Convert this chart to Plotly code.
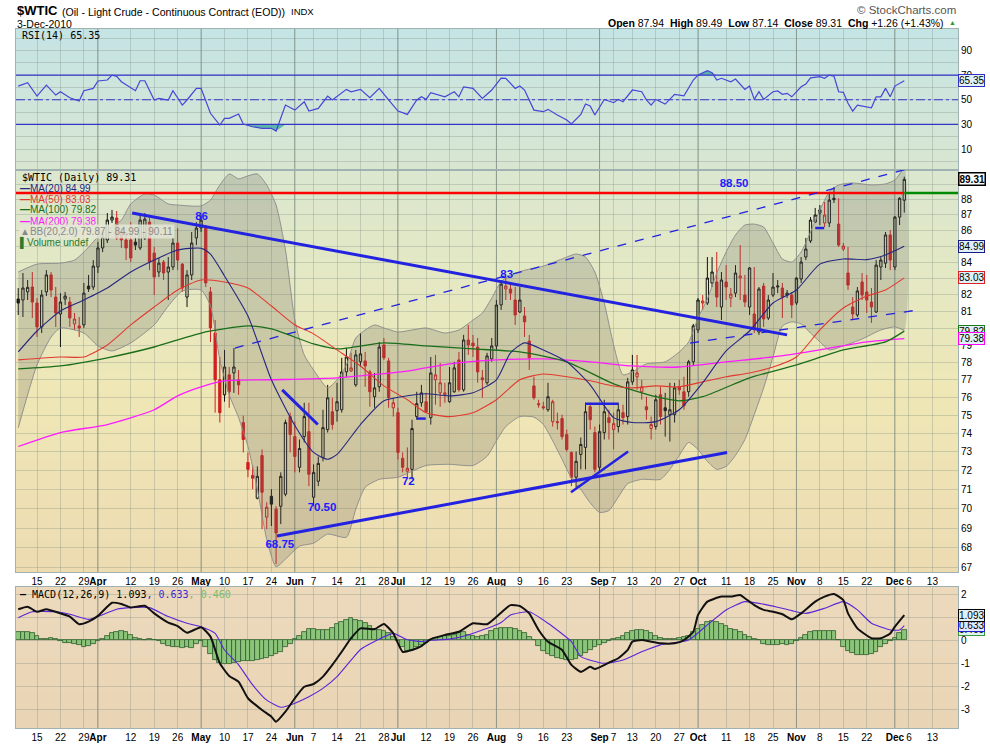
import math
import pandas as pd
import plotly.graph_objects as go

# ---------------------------------------------------------------- calendar
# trading-day numbers: day 0 = 2010-03-09 ... day 189 = 2010-12-03
FIRST_DAY = "2010-03-09"
AXIS_END_DAY = "2010-12-31"
HOLIDAYS = ["2010-05-31", "2010-07-05", "2010-09-06", "2010-11-25"]
CAL = [d for d in pd.bdate_range(FIRST_DAY, AXIS_END_DAY) if d.strftime("%Y-%m-%d") not in HOLIDAYS]
DAY_OF = {d.strftime("%Y-%m-%d"): i for i, d in enumerate(CAL)}

TICK_DATES = ["2010-03-15", "2010-03-22", "2010-03-29", "2010-04-01", "2010-04-12", "2010-04-19",
              "2010-04-26", "2010-05-03", "2010-05-10", "2010-05-17", "2010-05-24", "2010-06-01",
              "2010-06-07", "2010-06-14", "2010-06-21", "2010-06-28", "2010-07-01", "2010-07-12",
              "2010-07-19", "2010-07-26", "2010-08-02", "2010-08-09", "2010-08-16", "2010-08-23",
              "2010-09-01", "2010-09-07", "2010-09-13", "2010-09-20", "2010-09-27", "2010-10-01",
              "2010-10-11", "2010-10-18", "2010-10-25", "2010-11-01", "2010-11-08", "2010-11-15",
              "2010-11-22", "2010-12-01", "2010-12-06", "2010-12-13"]

# ---------------------------------------------------------------- daily OHLC (WTIC)
OPEN = [81.74, 81.68, 82.17, 82.47, 81.50, 80.07, 82.17, 83.21, 81.86, 80.84,
        81.74, 81.56, 80.25, 80.13, 80.19, 82.53, 82.47, 83.70, 84.89, 85.39,
        86.66, 86.79, 85.90, 85.39, 85.39, 85.26, 84.89, 85.52, 86.53, 84.57,
        83.39, 84.01, 83.39, 83.70, 85.20, 83.88, 81.86, 83.21, 85.52, 86.15,
        86.21, 82.17, 79.71, 77.00, 76.15, 77.28, 77.39, 77.00, 74.60, 72.43,
        71.74, 70.54, 72.80, 69.56, 70.64, 69.97, 70.12, 70.75, 74.93, 73.83,
        72.17, 73.83, 74.10, 70.59, 71.43, 72.70, 74.21, 75.20, 75.26, 75.31,
        77.45, 77.50, 76.71, 78.03, 78.08, 77.45, 76.04, 76.60, 79.01, 78.08,
        75.42, 75.15, 72.65, 71.96, 72.06, 74.93, 75.70, 75.76, 74.87, 77.00,
        76.26, 76.15, 75.76, 76.32, 78.14, 76.43, 79.30, 79.12, 78.89, 77.11,
        76.83, 78.20, 78.95, 81.38, 82.35, 82.35, 81.68, 80.96, 80.72, 79.24,
        76.65, 75.65, 75.48, 75.31, 74.65, 74.65, 74.82, 73.94, 72.97, 71.64,
        72.86, 73.24, 75.48, 74.05, 72.17, 74.05, 74.87, 74.21, 74.38, 75.15,
        74.93, 76.88, 77.17, 76.32, 75.48, 74.27, 74.38, 76.15, 75.42, 75.04,
        75.04, 76.60, 76.32, 76.32, 78.03, 79.89, 81.50, 81.50, 82.72, 82.78,
        81.26, 82.78, 81.80, 82.10, 83.02, 81.98, 81.26, 80.84, 79.77, 82.53,
        80.60, 81.98, 82.47, 82.41, 81.98, 81.98, 81.50, 82.96, 84.32, 85.33,
        86.53, 87.11, 86.47, 86.47, 88.07, 86.40, 84.82, 83.33, 81.26, 80.78,
        82.78, 82.17, 81.56, 80.96, 83.70, 83.94, 85.71, 83.70, 86.85, 87.94]
HIGH = [82.41, 83.33, 82.90, 83.39, 81.80, 82.29, 83.51, 83.39, 82.47, 82.10,
        82.17, 81.86, 80.90, 80.66, 82.72, 83.21, 84.13, 85.26, 85.90, 87.11,
        87.31, 87.24, 86.15, 85.90, 86.53, 85.58, 87.11, 87.11, 86.79, 84.95,
        84.26, 84.13, 84.32, 85.52, 86.15, 83.94, 83.51, 85.90, 86.53, 86.98,
        86.34, 82.47, 80.48, 78.31, 78.72, 77.73, 78.83, 77.56, 74.98, 72.97,
        72.27, 72.22, 73.13, 70.33, 71.01, 70.12, 71.90, 74.76, 75.15, 74.65,
        73.67, 75.70, 75.70, 72.33, 72.75, 75.31, 76.71, 75.98, 76.83, 78.26,
        78.83, 78.55, 78.72, 79.71, 78.60, 77.56, 77.39, 79.18, 79.42, 78.26,
        75.98, 75.42, 72.97, 73.24, 74.76, 76.32, 76.71, 76.26, 78.31, 78.43,
        77.96, 76.83, 77.73, 78.03, 78.60, 79.60, 80.19, 79.60, 79.42, 77.56,
        78.55, 79.42, 81.68, 82.90, 83.08, 82.59, 82.47, 82.47, 81.26, 79.60,
        77.17, 75.87, 75.76, 76.83, 75.87, 75.15, 75.04, 74.21, 73.02, 73.02,
        73.78, 75.70, 75.70, 74.38, 74.49, 75.87, 75.31, 75.15, 75.70, 75.59,
        77.11, 78.43, 78.43, 77.00, 76.04, 74.93, 76.15, 76.60, 76.26, 76.83,
        76.83, 77.00, 77.17, 78.14, 80.25, 81.80, 81.98, 84.32, 84.32, 84.63,
        83.39, 83.82, 82.41, 83.82, 85.07, 83.21, 83.70, 83.70, 82.47, 82.72,
        81.98, 83.33, 82.90, 82.72, 82.29, 82.17, 83.08, 84.32, 85.52, 86.85,
        87.44, 87.63, 87.82, 88.41, 88.81, 88.07, 85.20, 84.95, 81.86, 82.47,
        83.33, 83.21, 82.41, 84.13, 84.32, 85.90, 86.02, 86.92, 88.14, 89.49]
LOW = [80.78, 80.66, 81.68, 80.60, 79.48, 79.71, 81.92, 81.86, 80.07, 78.89,
       81.38, 80.07, 79.89, 79.48, 80.01, 82.17, 82.29, 83.33, 84.63, 85.20,
       86.47, 85.39, 84.89, 84.13, 84.01, 84.76, 84.76, 85.39, 83.51, 81.98,
       83.08, 82.90, 81.68, 83.51, 83.51, 82.17, 81.26, 82.90, 85.07, 85.90,
       82.47, 79.18, 75.15, 74.60, 75.76, 75.42, 76.26, 76.15, 72.97, 71.64,
       71.01, 70.48, 68.94, 68.94, 69.10, 67.18, 69.20, 70.64, 72.97, 71.90,
       71.90, 73.51, 71.17, 70.12, 71.17, 72.49, 74.05, 74.21, 74.65, 75.15,
       77.17, 77.45, 76.60, 77.73, 76.60, 75.48, 75.42, 76.32, 78.14, 75.42,
       74.93, 72.59, 71.90, 71.64, 71.53, 74.76, 75.48, 75.15, 74.49, 75.59,
       75.48, 75.70, 75.70, 76.26, 76.32, 76.32, 78.43, 78.31, 76.83, 75.98,
       76.71, 78.03, 78.72, 81.08, 81.68, 81.68, 80.19, 80.90, 79.48, 77.56,
       75.87, 75.42, 75.31, 75.20, 74.38, 74.21, 73.67, 73.02, 71.17, 71.11,
       72.06, 72.06, 74.21, 71.90, 71.90, 73.67, 73.67, 73.13, 74.05, 74.49,
       74.49, 76.71, 76.43, 75.87, 74.76, 73.67, 74.21, 74.49, 73.83, 73.56,
       74.60, 76.15, 75.31, 76.04, 77.79, 79.71, 81.08, 81.38, 82.47, 81.26,
       80.48, 81.68, 81.26, 81.86, 81.68, 81.26, 80.78, 79.71, 79.60, 80.07,
       80.48, 81.86, 82.10, 80.60, 81.80, 80.60, 81.38, 82.72, 84.13, 85.20,
       86.47, 86.34, 86.21, 86.21, 87.76, 84.95, 84.70, 82.29, 80.48, 80.66,
       81.68, 80.90, 80.31, 80.90, 82.90, 83.64, 83.51, 83.51, 86.34, 87.14]
CLOSE = [81.50, 82.41, 82.45, 81.56, 80.07, 81.98, 83.21, 82.29, 80.90, 81.56,
         81.92, 80.60, 80.54, 80.01, 82.10, 82.35, 83.76, 84.89, 85.58, 86.66,
         86.85, 85.52, 85.39, 84.89, 84.26, 85.07, 86.66, 86.72, 84.01, 83.08,
         83.94, 83.33, 83.70, 85.20, 84.13, 82.41, 83.21, 85.20, 86.15, 86.66,
         82.72, 80.01, 77.00, 75.15, 77.73, 76.32, 77.73, 76.71, 73.67, 72.06,
         71.59, 71.69, 70.85, 70.07, 70.23, 68.75, 71.69, 74.60, 73.94, 72.75,
         73.18, 74.93, 71.80, 71.90, 72.38, 74.32, 75.98, 74.49, 75.76, 77.45,
         78.31, 77.68, 78.43, 78.49, 77.79, 76.32, 76.54, 78.89, 78.26, 75.98,
         75.70, 72.97, 72.17, 72.12, 74.27, 75.65, 76.26, 75.20, 77.39, 77.28,
         76.83, 76.26, 76.83, 77.68, 76.43, 79.30, 79.01, 78.95, 77.45, 77.00,
         78.37, 78.95, 81.38, 82.65, 82.53, 82.10, 80.78, 81.68, 80.37, 78.26,
         75.98, 75.59, 75.42, 76.04, 75.76, 74.60, 73.83, 73.13, 71.64, 72.49,
         73.40, 75.20, 74.76, 72.06, 74.10, 75.20, 74.60, 74.54, 75.31, 74.87,
         76.88, 77.56, 77.39, 76.60, 75.31, 74.49, 75.87, 74.93, 75.26, 75.31,
         76.54, 76.43, 75.53, 78.03, 80.13, 81.68, 81.62, 83.02, 83.39, 81.86,
         82.90, 82.47, 82.04, 83.33, 83.15, 81.56, 83.64, 80.01, 82.35, 80.54,
         81.68, 82.47, 82.53, 81.86, 82.10, 81.38, 83.02, 84.01, 84.82, 86.66,
         86.98, 87.31, 86.98, 87.95, 87.98, 85.07, 85.01, 82.59, 80.84, 82.23,
         81.98, 81.68, 81.26, 83.82, 84.13, 85.71, 84.13, 86.85, 88.07, 89.31]
CHG, CHG_PCT = 1.26, 1.43

# ---------------------------------------------------------------- overlays (read at trading-day numbers)
MA20_DAY = [0, 4, 9, 14, 19, 24, 29, 34, 39, 41, 44, 49, 54, 59, 63, 66, 68, 73, 78, 83, 87, 92, 97,
            102, 105, 108, 112, 117, 122, 127, 131, 136, 141, 146, 151, 156, 161, 166, 171, 176,
            181, 185, 189]
MA20_VAL = [78.60, 79.83, 81.02, 81.68, 82.41, 83.39, 84.13, 84.76, 84.87, 84.50, 83.15, 80.72, 77.00,
            74.44, 72.97, 72.60, 72.86, 74.49, 75.81, 76.09, 76.21, 76.09, 76.26, 77.00, 78.55, 79.13,
            78.72, 78.03, 76.71, 74.87, 74.60, 74.65, 75.31, 76.83, 78.66, 79.83, 81.50, 82.29, 83.88,
            84.20, 84.16, 84.45, 84.99]
MA50_DAY = [0, 9, 14, 19, 24, 29, 34, 39, 44, 49, 54, 59, 63, 68, 73, 78, 83, 87, 92, 97, 102, 107,
            112, 117, 122, 127, 131, 136, 141, 146, 151, 156, 161, 166, 171, 176, 181, 185, 189]
MA50_VAL = [78.14, 78.31, 78.31, 79.01, 80.19, 81.26, 82.29, 82.90, 82.78, 82.41, 81.32, 80.19, 79.66,
            78.72, 77.79, 76.65, 75.87, 75.14, 74.93, 75.14, 75.87, 77.00, 77.33, 77.17, 76.94, 76.65,
            76.54, 76.65, 76.60, 76.88, 77.17, 77.39, 77.73, 78.31, 79.89, 81.20, 81.92, 82.29, 83.03]
MA100_DAY = [0, 9, 19, 29, 39, 49, 54, 63, 68, 78, 87, 97, 107, 117, 127, 136, 141, 146, 156, 166,
             176, 185, 189]
MA100_VAL = [77.62, 77.79, 78.26, 78.89, 79.71, 80.13, 79.95, 79.07, 78.78, 79.13, 78.95, 78.78, 78.60,
             78.03, 76.77, 76.04, 75.81, 76.04, 77.11, 77.85, 78.72, 79.19, 79.82]
MA200_DAY = [0, 9, 19, 29, 34, 39, 44, 54, 68, 83, 92, 102, 112, 122, 131, 141, 151, 161, 171, 181, 189]
MA200_VAL = [73.29, 74.05, 74.49, 75.31, 76.09, 76.60, 76.94, 77.00, 77.11, 77.50, 77.91, 78.14, 78.20,
             78.03, 77.79, 77.73, 78.03, 78.31, 78.72, 79.19, 79.38]
BBU_DAY = [0, 4, 9, 12, 14, 17, 19, 22, 24, 27, 29, 32, 34, 39, 41, 43, 45, 47, 49, 51, 53, 55, 57,
           59, 61, 63, 66, 68, 70, 72, 74, 76, 78, 81, 84, 87, 91, 94, 97, 99, 101, 103, 105, 108,
           112, 116, 119, 121, 123, 125, 127, 129, 131, 134, 138, 141, 143, 145, 147, 149, 151, 153,
           155, 157, 159, 161, 163, 165, 167, 169, 171, 173, 175, 178, 182, 185, 187, 189]
BBU_VAL = [83.39, 83.88, 83.94, 84.13, 84.63, 85.58, 86.02, 86.66, 87.70, 88.35, 88.28, 87.70, 87.63,
           87.57, 87.95, 88.94, 89.67, 89.34, 89.54, 89.67, 88.94, 87.63, 84.76, 80.48, 78.43, 77.56,
           76.54, 77.00, 77.85, 79.42, 79.89, 80.19, 80.01, 79.77, 79.89, 80.01, 79.71, 79.89, 80.48,
           80.90, 81.80, 82.80, 83.20, 83.50, 83.76, 84.20, 84.51, 84.32, 83.39, 81.50, 79.01, 77.28,
           77.45, 77.91, 78.03, 78.60, 79.18, 80.60, 81.74, 83.33, 84.63, 85.71, 86.34, 86.40, 86.21,
           85.20, 84.20, 84.01, 84.63, 85.90, 87.31, 88.48, 88.94, 89.07, 88.94, 89.01, 89.27, 90.11]
BBL_DAY = [0, 2, 4, 7, 9, 14, 17, 20, 24, 29, 32, 35, 39, 41, 43, 45, 47, 49, 51, 53, 55, 57, 60, 63,
           66, 70, 72, 74, 77, 81, 84, 87, 92, 97, 100, 102, 104, 107, 110, 112, 114, 116, 118, 120,
           122, 124, 126, 128, 130, 133, 137, 139, 141, 143, 145, 147, 149, 151, 153, 155, 157, 159,
           161, 163, 165, 167, 169, 171, 173, 176, 180, 184, 187, 189]
BBL_VAL = [74.32, 76.15, 77.85, 79.47, 80.01, 79.71, 78.95, 78.66, 79.13, 80.19, 81.32, 82.23, 82.29,
           81.32, 78.14, 76.15, 74.87, 73.29, 71.01, 68.43, 67.05, 67.43, 68.08, 68.23, 68.69, 68.53,
           69.97, 71.11, 71.53, 71.64, 71.96, 72.27, 72.33, 72.27, 72.76, 73.60, 74.38, 74.93, 74.90,
           74.50, 73.60, 72.60, 71.60, 71.00, 70.30, 69.80, 69.90, 70.60, 71.30, 71.53, 71.53, 72.06,
           72.81, 73.51, 73.13, 72.49, 72.06, 72.22, 72.81, 73.67, 75.04, 76.54, 78.31, 80.13, 80.37,
           80.25, 79.71, 79.19, 78.72, 78.95, 79.36, 79.89, 80.07, 79.87]

# ---------------------------------------------------------------- drawn trend lines / labels (day, price)
DOWN_DAY, DOWN_PX = [24.3, 164.0], [87.11, 79.60]
UP_DAY, UP_PX = [55.2, 151.2], [68.59, 72.97]
CHAN_HI_DAY, CHAN_HI_PX = [46.2, 196.0], [78.83, 90.53]
CHAN_LO_DAY, CHAN_LO_PX = [143.3, 191.9], [79.12, 81.08]
JUN_DAY, JUN_PX = [56.3, 63.9], [76.43, 74.49]
AUG_DAY, AUG_PX = [117.9, 130.1], [70.85, 73.02]
SEP_DAY, SEP_PX = [120.9, 128.0], [75.65, 75.65]
JUL_DASH_DAY, JUL_DASH_PX = [85.0, 88.3], [74.82, 74.82]
NOV_DASH_DAY, NOV_DASH_PX = [170.0, 173.0], [86.15, 86.15]
RESIST = 88.42
LBL_TEXT = ["86", "83", "88.50", "68.75", "70.50", "72"]
LBL_DAY = [39.1, 104.2, 152.7, 55.8, 64.8, 83.2]
LBL_PX = [86.82, 83.21, 88.97, 68.13, 70.00, 71.40]

# ---------------------------------------------------------------- RSI(14)
RSI_DAY = [0, 2, 4, 6, 8, 9, 11, 13, 14, 16, 17, 19, 20, 21, 22, 25, 26, 27, 29, 30, 32, 33, 35, 36,
           38, 39, 41, 43, 44, 45, 47, 48, 50, 52, 54, 55, 57, 59, 61, 62, 64, 66, 67, 70, 71, 73, 75,
           77, 79, 81, 83, 85, 86, 87, 88, 91, 93, 94, 95, 97, 99, 101, 103, 104, 106, 107, 108, 109,
           110, 112, 113, 115, 117, 118, 120, 121, 122, 123, 125, 127, 128, 129, 131, 133, 134, 135,
           136, 138, 140, 142, 144, 145, 147, 148, 149, 150, 152, 153, 155, 156, 157, 158, 159, 161,
           162, 163, 164, 165, 167, 168, 169, 171, 172, 173, 174, 175, 176, 177, 178, 179, 182, 183,
           184, 185, 186, 187, 188, 189]
RSI_VAL = [61.1, 63.8, 53.0, 61.9, 53.8, 56.5, 51.6, 48.9, 57.3, 59.2, 65.2, 66.0, 70.0, 69.0, 64.6,
           57.3, 65.4, 65.4, 49.8, 51.1, 49.8, 57.3, 45.7, 49.8, 59.2, 59.2, 39.0, 29.5, 34.9, 34.9,
           38.4, 30.3, 28.1, 26.8, 26.8, 24.6, 45.7, 41.6, 48.4, 40.8, 43.0, 53.0, 49.8, 58.4, 56.5,
           58.4, 51.6, 59.2, 49.8, 40.8, 38.1, 49.8, 52.4, 50.3, 55.7, 52.4, 56.5, 52.4, 60.5, 59.2,
           51.1, 57.9, 67.5, 67.4, 59.2, 61.1, 57.9, 50.3, 41.6, 40.3, 42.2, 37.6, 33.5, 30.3, 38.1,
           46.5, 44.9, 37.6, 50.3, 47.6, 50.3, 48.4, 57.9, 56.5, 49.8, 45.7, 50.3, 46.5, 54.4, 53.2,
           66.0, 70.0, 73.5, 71.9, 66.0, 67.4, 64.6, 66.8, 58.4, 61.1, 50.3, 56.5, 50.3, 56.5, 57.1,
           54.4, 55.2, 52.4, 60.5, 62.7, 67.8, 68.7, 67.4, 70.0, 69.2, 56.5, 56.0, 47.1, 40.8, 45.7,
           43.5, 52.4, 52.4, 59.2, 52.4, 61.1, 63.0, 65.35]
RSI_LOW, RSI_MID, RSI_HIGH = 30, 50, 70

# ---------------------------------------------------------------- MACD(12,26,9)
MACD_DAY = [0, 2, 4, 6, 9, 11, 13, 15, 17, 20, 22, 24, 27, 29, 32, 34, 36, 39, 41, 43, 45, 47, 49, 52,
            54, 55, 57, 59, 61, 63, 65, 67, 69, 71, 73, 76, 78, 80, 82, 84, 86, 88, 91, 94, 97, 100,
            103, 105, 107, 109, 111, 113, 116, 118, 120, 122, 123, 126, 128, 130, 131, 133, 135, 137,
            140, 142, 144, 145, 147, 150, 152, 154, 155, 157, 159, 161, 163, 165, 167, 170, 172, 174,
            176, 177, 179, 182, 184, 186, 187, 189]
MACD_VAL = [1.35, 1.46, 1.24, 1.35, 1.17, 1.03, 0.70, 0.81, 1.06, 1.63, 1.58, 1.43, 1.50, 1.17, 0.77,
            0.62, 0.33, 0.57, 0.16, -1.00, -1.55, -1.80, -2.52, -3.03, -3.32, -3.54, -3.10, -2.52,
            -2.02, -1.90, -1.58, -1.07, -0.50, 0.09, 0.52, 0.48, 0.71, 0.30, -0.50, -0.42, -0.25, 0.05,
            0.23, 0.37, 0.74, 0.70, 1.20, 1.53, 1.49, 1.17, 0.45, -0.06, -0.42, -1.07, -1.37, -1.15,
            -1.25, -0.97, -0.78, -0.42, -0.06, 0.01, -0.06, -0.13, -0.13, 0.01, 0.37, 1.10, 1.68, 1.90,
            1.90, 1.97, 1.83, 1.53, 1.32, 1.24, 1.13, 0.91, 1.17, 1.68, 1.90, 2.01, 1.75, 1.17, 0.52,
            0.09, 0.09, 0.30, 0.59, 1.093]
SIG_DAY = [0, 3, 8, 11, 15, 17, 21, 24, 28, 32, 36, 39, 42, 44, 47, 50, 53, 56, 58, 62, 65, 68, 71, 73,
           76, 80, 83, 86, 88, 92, 96, 99, 101, 103, 105, 109, 113, 118, 120, 125, 129, 133, 137, 143,
           147, 151, 155, 160, 165, 168, 172, 176, 179, 182, 186, 188, 189]
SIG_VAL = [0.98, 1.24, 1.24, 1.13, 0.91, 1.03, 1.35, 1.42, 1.42, 1.03, 0.74, 0.59, 0.30, -0.42, -1.07,
           -1.94, -2.60, -2.91, -2.81, -2.45, -2.09, -1.58, -0.86, -0.40, -0.05, 0.30, 0.02, -0.05,
           0.00, 0.05, 0.23, 0.45, 0.59, 0.77, 1.10, 1.24, 0.74, -0.06, -0.71, -1.00, -0.86, -0.50,
           -0.20, 0.01, 0.67, 1.32, 1.68, 1.53, 1.29, 1.17, 1.39, 1.68, 1.32, 0.74, 0.45, 0.45, 0.633]
HIST = [0.35, 0.35, 0.35, 0.30, 0.20, 0.05, 0.05, 0.08, 0.05, -0.05,
        -0.10, -0.10, -0.15, -0.20, -0.30, -0.25, -0.15, -0.05, 0.05, 0.20,
        0.30, 0.35, 0.40, 0.35, 0.25, 0.10, 0.05, 0.00, 0.05, 0.03,
        -0.05, -0.15, -0.25, -0.30, -0.30, -0.35, -0.30, -0.35, -0.15, -0.05,
        -0.30, -0.60, -0.85, -1.00, -1.05, -1.05, -1.00, -0.95, -0.90, -0.90,
        -0.90, -0.85, -0.80, -0.75, -0.70, -0.60, -0.50, -0.30, -0.15, 0.05,
        0.20, 0.35, 0.50, 0.50, 0.45, 0.45, 0.45, 0.55, 0.70, 0.80,
        0.90, 0.95, 0.90, 0.85, 0.75, 0.60, 0.50, 0.45, 0.40, 0.30,
        0.15, -0.05, -0.30, -0.45, -0.40, -0.30, -0.20, -0.10, 0.00, 0.10,
        0.15, 0.20, 0.20, 0.25, 0.30, 0.35, 0.25, 0.20, 0.15, 0.20,
        0.25, 0.40, 0.50, 0.55, 0.55, 0.55, 0.50, 0.40, 0.30, 0.15,
        0.00, -0.25, -0.45, -0.60, -0.70, -0.75, -0.80, -0.85, -0.85, -0.80,
        -0.70, -0.55, -0.40, -0.30, -0.20, -0.10, -0.05, 0.05, 0.10, 0.20,
        0.30, 0.40, 0.45, 0.45, 0.40, 0.30, 0.20, 0.10, 0.05, 0.05,
        0.05, 0.10, 0.15, 0.20, 0.35, 0.50, 0.65, 0.80, 0.85, 0.80,
        0.70, 0.60, 0.50, 0.45, 0.35, 0.25, 0.15, 0.05, 0.00, -0.15,
        -0.20, -0.20, -0.20, -0.15, -0.20, -0.15, -0.05, 0.10, 0.25, 0.35,
        0.40, 0.40, 0.40, 0.40, 0.40, 0.00, -0.30, -0.45, -0.55, -0.65,
        -0.65, -0.65, -0.60, -0.50, -0.30, -0.15, -0.05, 0.10, 0.30, 0.46]

# ---------------------------------------------------------------- geometry / style
W, H = 990, 744
def px(x):
    return x / W
def py(y):
    return 1 - y / H

PLOT_L, PLOT_R = 16, 958
RSI_T, RSI_B = 29, 170
MAIN_T, MAIN_B = 170, 572
MACD_T, MACD_B = 587, 728
X_RANGE = [-0.48, 200.46]
MAIN_RANGE = [math.log10(66.79), math.log10(89.93)]
RSI_RANGE = [-7.0, 107.4]
MACD_RANGE = [-3.813, 2.317]

FONT = "Liberation Sans, Arial, sans-serif"
MONO = "DejaVu Sans Mono, monospace"
GRID = "rgba(120,135,125,0.30)"
MONTH_GRID = "rgba(95,110,100,0.55)"
BORDER = "#9fb1b1"
TL_BLUE = "#2222e0"
C_MA20, C_MA50, C_MA100, C_MA200 = "#262680", "#e23a30", "#1a6e1a", "#ff1aff"
RED = "#d02020"

N = len(CLOSE)
TICK_DAYS = [DAY_OF[d] for d in TICK_DATES]
IS_MONTH = [i == 0 or CAL[i - 1].month != CAL[i].month for i in TICK_DAYS]
TICK_TEXT = ["<b>%s</b>" % CAL[i].strftime("%b") if m else str(CAL[i].day) for i, m in zip(TICK_DAYS, IS_MONTH)]
MONTH_DAYS = [i for i, m in zip(TICK_DAYS, IS_MONTH) if m]

fig = go.Figure()
T = dict(hoverinfo="skip", showlegend=False)

# ---------------- RSI panel
fig.add_trace(go.Scatter(x=RSI_DAY, y=[RSI_LOW] * len(RSI_DAY), mode="lines", line=dict(width=0), xaxis="x", yaxis="y", **T))
fig.add_trace(go.Scatter(x=RSI_DAY, y=[min(v, RSI_LOW) for v in RSI_VAL], mode="lines", line=dict(width=0),
                         fill="tonexty", fillcolor="rgba(60,170,160,0.8)", xaxis="x", yaxis="y", **T))
fig.add_trace(go.Scatter(x=RSI_DAY, y=[RSI_HIGH] * len(RSI_DAY), mode="lines", line=dict(width=0), xaxis="x", yaxis="y", **T))
fig.add_trace(go.Scatter(x=RSI_DAY, y=[max(v, RSI_HIGH) for v in RSI_VAL], mode="lines", line=dict(width=0),
                         fill="tonexty", fillcolor="rgba(60,170,160,0.8)", xaxis="x", yaxis="y", **T))
for lv, dash in ((RSI_HIGH, "solid"), (RSI_MID, "dashdot"), (RSI_LOW, "solid")):
    fig.add_trace(go.Scatter(x=X_RANGE, y=[lv, lv], mode="lines", line=dict(color="#3434c8", width=1.1, dash=dash),
                             xaxis="x", yaxis="y", **T))
fig.add_trace(go.Scatter(x=RSI_DAY, y=RSI_VAL, mode="lines", line=dict(color="#4646d6", width=1.2), xaxis="x", yaxis="y", **T))

# ---------------- main panel
fig.add_trace(go.Scatter(x=BBU_DAY + BBL_DAY[::-1], y=BBU_VAL + BBL_VAL[::-1], mode="lines", fill="toself",
                         fillcolor="rgba(105,105,95,0.24)", line=dict(width=0, shape="spline", smoothing=0.6),
                         xaxis="x2", yaxis="y2", **T))
for d, v in ((BBU_DAY, BBU_VAL), (BBL_DAY, BBL_VAL)):
    fig.add_trace(go.Scatter(x=d, y=v, mode="lines", line=dict(color="rgba(140,140,140,0.95)", width=1, shape="spline", smoothing=0.6),
                             xaxis="x2", yaxis="y2", **T))
for d, v, c, w in ((MA200_DAY, MA200_VAL, C_MA200, 1.3), (MA100_DAY, MA100_VAL, C_MA100, 1.3),
                   (MA50_DAY, MA50_VAL, C_MA50, 1.1), (MA20_DAY, MA20_VAL, C_MA20, 1.1)):
    fig.add_trace(go.Scatter(x=d, y=v, mode="lines", line=dict(color=c, width=w, shape="spline", smoothing=0.6),
                             xaxis="x2", yaxis="y2", **T))

blk = [i for i in range(N) if i == 0 or CLOSE[i] >= CLOSE[i - 1]]
red = [i for i in range(N) if i > 0 and CLOSE[i] < CLOSE[i - 1]]
for idx, col in ((blk, "#111111"), (red, RED)):
    fig.add_trace(go.Candlestick(
        x=idx, open=[OPEN[i] for i in idx], high=[HIGH[i] for i in idx],
        low=[LOW[i] for i in idx], close=[CLOSE[i] for i in idx],
        increasing=dict(line=dict(color=col, width=1), fillcolor="rgba(0,0,0,0)"),
        decreasing=dict(line=dict(color=col, width=1), fillcolor=col),
        whiskerwidth=0, xaxis="x2", yaxis="y2", hoverinfo="skip", showlegend=False))

fig.add_trace(go.Scatter(x=[X_RANGE[0], N - 1], y=[RESIST, RESIST], mode="lines", line=dict(color="#ff0000", width=2.5), xaxis="x2", yaxis="y2", **T))
fig.add_trace(go.Scatter(x=[N - 1, X_RANGE[1]], y=[RESIST, RESIST], mode="lines", line=dict(color="#008a00", width=2.5), xaxis="x2", yaxis="y2", **T))

for d, v, w, dash in ((DOWN_DAY, DOWN_PX, 3, "solid"), (UP_DAY, UP_PX, 3, "solid"), (JUN_DAY, JUN_PX, 3, "solid"),
                      (AUG_DAY, AUG_PX, 2.5, "solid"), (SEP_DAY, SEP_PX, 2.5, "solid"),
                      (CHAN_HI_DAY, CHAN_HI_PX, 1.3, "dash"), (CHAN_LO_DAY, CHAN_LO_PX, 1.3, "dash"),
                      (JUL_DASH_DAY, JUL_DASH_PX, 2.5, "dash"), (NOV_DASH_DAY, NOV_DASH_PX, 2.5, "dash")):
    fig.add_trace(go.Scatter(x=d, y=v, mode="lines", line=dict(color=TL_BLUE, width=w, dash=dash), xaxis="x2", yaxis="y2", **T))

fig.add_trace(go.Scatter(x=LBL_DAY, y=LBL_PX, mode="text", text=["<b>%s</b>" % t for t in LBL_TEXT],
                         textfont=dict(family=FONT, size=11.5, color="#1c1cff"), xaxis="x2", yaxis="y2", **T))

# ---------------- MACD panel
fig.add_trace(go.Bar(x=list(range(N)), y=HIST, width=1.0, marker=dict(color="#8cc47a", line=dict(color="#2d5e2d", width=0.8)),
                     xaxis="x3", yaxis="y3", **T))
fig.add_trace(go.Scatter(x=SIG_DAY, y=SIG_VAL, mode="lines", line=dict(color="#5a26d8", width=1.1, shape="spline", smoothing=0.5), xaxis="x3", yaxis="y3", **T))
fig.add_trace(go.Scatter(x=MACD_DAY, y=MACD_VAL, mode="lines", line=dict(color="#111111", width=2, shape="spline", smoothing=0.5), xaxis="x3", yaxis="y3", **T))

# ---------------------------------------------------------------- background gradients & month lines
shapes = []
def lerp(stops, t):
    for (t0, c0), (t1, c1) in zip(stops, stops[1:]):
        if t <= t1:
            f = (t - t0) / (t1 - t0)
            return "rgb(%d,%d,%d)" % tuple(round(a + (b - a) * f) for a, b in zip(c0, c1))
    return "rgb(%d,%d,%d)" % stops[-1][1]

def gradient(top, bot, stops, n):
    h = (bot - top) / n
    for k in range(n):
        y0 = top + k * h
        y1 = min(bot, y0 + h + 0.8)
        shapes.append(dict(type="rect", xref="paper", yref="paper", x0=px(PLOT_L), x1=px(PLOT_R),
                           y0=py(y1), y1=py(y0), fillcolor=lerp(stops, (k + 0.5) / n),
                           line=dict(width=0), layer="below"))

gradient(RSI_T, RSI_B, [(0, (197, 228, 229)), (1, (216, 230, 208))], 20)
gradient(MAIN_T, MAIN_B, [(0, (218, 231, 207)), (0.3, (229, 232, 194)), (0.55, (239, 231, 182)), (1, (237, 219, 178))], 36)
gradient(MACD_T, MACD_B, [(0, (236, 217, 187)), (1, (234, 212, 182))], 8)

for xa, ya in (("x", "y"), ("x2", "y2"), ("x3", "y3")):
    for d in MONTH_DAYS:
        shapes.append(dict(type="line", xref=xa, yref=ya + " domain", x0=d, x1=d, y0=0, y1=1,
                           line=dict(color=MONTH_GRID, width=1), layer="below"))

# ---------------------------------------------------------------- annotations
ann = []
def text(x, y, s, size=10, color="black", family=FONT, anchor="left", bg=None):
    a = dict(xref="paper", yref="paper", x=px(x), y=py(y), text=s, showarrow=False, xanchor=anchor,
             yanchor="middle", font=dict(family=family, size=size, color=color))
    if bg:
        a.update(bgcolor=bg, borderpad=1)
    ann.append(a)

text(15, 11, "<b>$WTIC</b>", size=13)
text(60, 12, "(Oil - Light Crude - Continuous Contract (EOD))", size=10.6)
text(289, 12, "INDX", size=9.5)
text(15, 24, "3-Dec-2010", size=10.5)
text(958, 10, "\u00a9 StockCharts.com", size=11.5, color="#555555", anchor="right")
text(946, 23, "<b>Open</b> %.2f  <b>High</b> %.2f  <b>Low</b> %.2f  <b>Close</b> %.2f  <b>Chg</b> +%.2f (+%.2f%%)"
     % (OPEN[-1], HIGH[-1], LOW[-1], CLOSE[-1], CHG, CHG_PCT), size=10.5, anchor="right")
text(952, 23, "\u25b2", size=7, color="#2e9a2e", anchor="center")

text(20, 36, "RSI(14) %.2f" % RSI_VAL[-1], size=10, family=MONO)
text(20, 177, "$WTIC (Daily) %.2f" % CLOSE[-1], size=10, family=MONO)
text(18, 188, "<b>\u2014</b>MA(20) %.2f" % MA20_VAL[-1], size=10, color=C_MA20)
text(18, 199, "<b>\u2014</b>MA(50) %.2f" % MA50_VAL[-1], size=10, color=C_MA50)
text(18, 210, "<b>\u2014</b>MA(100) %.2f" % MA100_VAL[-1], size=10, color=C_MA100)
text(18, 221, "<b>\u2014</b>MA(200) %.2f" % MA200_VAL[-1], size=10, color=C_MA200)
text(18, 232, "\u25b2BB(20,2.0) %.2f - %.2f - %.2f" % (BBL_VAL[-1], MA20_VAL[-1], BBU_VAL[-1]), size=10,
     color="#8a8a8a", bg="rgba(228,230,214,0.85)")
text(18, 243, "\u258cVolume undef", size=10, color="#2a7a2a")
text(18, 594, "<b>\u2014</b> MACD(12,26,9) %.3f<span style='color:#3a2ad8'>, %.3f</span><span style='color:#7cbc6a'>, %.3f</span>"
     % (MACD_VAL[-1], SIG_VAL[-1], HIST[-1]), size=10, family=MONO)

def tag(val, yref, ytrans, fmt, border, bg="#dff1f5", bold=False, bw=1):
    s = fmt % val
    ann.append(dict(xref="paper", x=px(958), xanchor="left", yref=yref, y=ytrans(val), yanchor="middle",
                    text="<b>%s</b>" % s if bold else s, showarrow=False,
                    font=dict(family=FONT, size=10, color="black"), bgcolor=bg, bordercolor=border,
                    borderwidth=bw, borderpad=0))

lg = math.log10
ident = lambda v: v
tag(BBU_VAL[-1], "y2", lg, "%.2f", "#8ea2b0")
tag(CLOSE[-1], "y2", lg, "%.2f", "#000000", bg="#ffffff", bold=True, bw=1.5)
tag(MA20_VAL[-1], "y2", lg, "%.2f", "#1a1a8a")
tag(MA50_VAL[-1], "y2", lg, "%.2f", "#e02020")
tag(MA100_VAL[-1], "y2", lg, "%.2f", "#1a7a1a")
tag(MA200_VAL[-1], "y2", lg, "%.2f", "#ff00ff")
tag(RSI_VAL[-1], "y", ident, "%.2f", "#3030c8")
tag(HIST[-1], "y3", ident, "%.3f", "#3a9a3a")
tag(SIG_VAL[-1], "y3", ident, "%.3f", "#2222cc", bg="#e2e8ff")
tag(MACD_VAL[-1], "y3", ident, "%.3f", "#000000")

# ---------------------------------------------------------------- axes
tickfont = dict(family=FONT, size=10, color="black")
xcommon = dict(range=X_RANGE, domain=[px(PLOT_L), px(PLOT_R)], tickvals=TICK_DAYS, ticktext=TICK_TEXT,
               showgrid=True, gridcolor=GRID, gridwidth=1, zeroline=False, ticks="", showline=True,
               mirror=True, linecolor=BORDER, tickfont=tickfont, fixedrange=True, tickangle=0)
ycommon = dict(side="right", showgrid=True, gridcolor=GRID, gridwidth=1, zeroline=False, ticks="",
               showline=True, mirror=True, linecolor=BORDER, tickfont=tickfont, fixedrange=True)

MAIN_TICKS = list(range(67, 91))
MAIN_HIDDEN = {80, 83, 85, 89, 90}
RSI_TICKS = list(range(0, 101, 10))

fig.update_layout(
    width=W, height=H, margin=dict(l=0, r=0, t=0, b=0), autosize=False,
    paper_bgcolor="white", plot_bgcolor="rgba(0,0,0,0)", showlegend=False,
    font=dict(family=FONT, size=10, color="black"), barmode="overlay", bargap=0,
    xaxis=dict(xcommon, anchor="y", showticklabels=False),
    xaxis2=dict(xcommon, anchor="y2", showticklabels=True, rangeslider=dict(visible=False)),
    xaxis3=dict(xcommon, anchor="y3", showticklabels=True),
    yaxis=dict(ycommon, anchor="x", domain=[py(RSI_B), py(RSI_T)], range=RSI_RANGE, tickvals=RSI_TICKS,
               ticktext=[str(v) if v in (10, 30, 50, 70, 90) else "" for v in RSI_TICKS]),
    yaxis2=dict(ycommon, anchor="x2", domain=[py(MAIN_B), py(MAIN_T)], type="log", range=MAIN_RANGE,
                tickvals=MAIN_TICKS, ticktext=["" if v in MAIN_HIDDEN else str(v) for v in MAIN_TICKS]),
    yaxis3=dict(ycommon, anchor="x3", domain=[py(MACD_B), py(MACD_T)], range=MACD_RANGE,
                tickvals=[-3, -2, -1, 0, 1, 2], ticktext=["-3", "-2", "-1", "0", "", "2"]),
    shapes=shapes, annotations=ann,
)

fig.write_html("out.html", config={"displayModeBar": False},
               post_script="document.body.style.margin='0px';document.body.style.overflow='hidden';"
               "document.documentElement.style.overflow='hidden';")
